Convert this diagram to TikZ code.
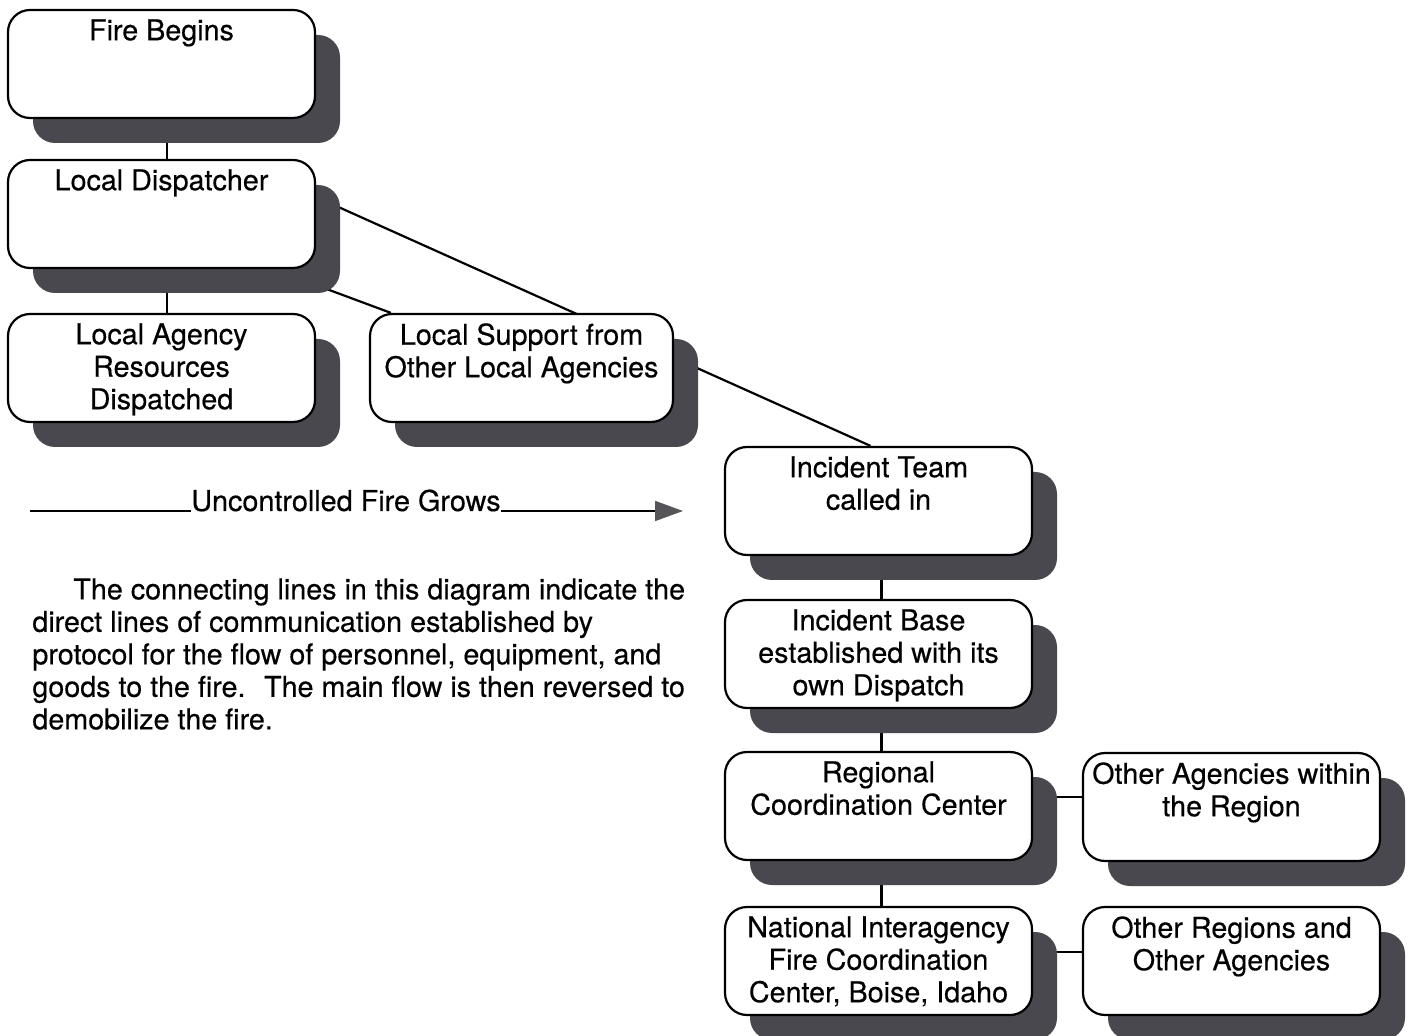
\documentclass[tikz,border=0pt]{standalone}
\usepackage{fontspec}
\setmainfont{TeX Gyre Heros}[FakeBold=0.4]
\usetikzlibrary{shadows,arrows.meta}
\definecolor{shadowc}{RGB}{72,72,78}
\definecolor{arrowc}{RGB}{85,85,90}
\pgfdeclarelayer{bg}
\pgfsetlayers{bg,main}
\begin{document}
\begin{tikzpicture}[x=0.5pt,y=-0.5pt,
  box/.style={draw=black, line width=1.1pt, fill=white, rounded corners=11pt,
    minimum width=153.5pt, minimum height=54pt, inner sep=0pt,
    general shadow={fill=shadowc, shadow xshift=12.5pt, shadow yshift=-12.5pt}},
  lbl/.style={anchor=north, align=center, inner sep=0pt, font=\fontsize{14.35}{16.25}\selectfont},
  link/.style={draw=black, line width=1.1pt}]
\useasboundingbox (0,0) rectangle (1412,1036);

% boxes
\node[box] (fb) at (161.5,64) {};
\node[lbl] (fbt) at ([yshift=-5pt]fb.north) {Fire Begins};
\node[box] (ld) at (161.5,214) {};
\node[lbl] (ldt) at ([yshift=-5pt]ld.north) {Local Dispatcher};
\node[box] (la) at (161.5,368) {};
\node[lbl] (lat) at ([yshift=-5pt]la.north) {Local Agency\\Resources\\Dispatched};
\node[box, minimum width=151.5pt] (ls) at (521.5,368) {};
\node[lbl] (lst) at ([yshift=-5pt]ls.north) {Local Support from\\Other Local Agencies};
\node[box] (it) at (878.5,501) {};
\node[lbl] (itt) at ([yshift=-5pt]it.north) {Incident Team\\called in};
\node[box] (ib) at (878.5,654) {};
\node[lbl] (ibt) at ([yshift=-5pt]ib.north) {Incident Base\\established with its\\own Dispatch};
\node[box] (rc) at (878.5,806) {};
\node[lbl] (rct) at ([yshift=-5pt]rc.north) {Regional\\Coordination Center};
\node[box, minimum width=148.5pt] (oa) at (1231.5,807) {};
\node[lbl] (oat) at ([yshift=-5pt]oa.north) {Other Agencies within\\the Region};
\node[box] (ni) at (878.5,961) {};
\node[lbl] (nit) at ([yshift=-5pt]ni.north) {National Interagency\\Fire Coordination\\Center, Boise, Idaho};
\node[box, minimum width=148.5pt] (or) at (1231.5,961) {};
\node[lbl] (ort) at ([yshift=-5pt]or.north) {Other Regions and\\Other Agencies};

% connectors (behind boxes)
\begin{pgfonlayer}{bg}
\draw[link] ([xshift=2.75pt]fb.center) -- ([xshift=2.75pt]ld.center);
\draw[link] ([xshift=2.75pt]ld.center) -- ([xshift=2.75pt]la.center);
\draw[link] ([yshift=8.5pt]ld.east) -- ([xshift=-4pt]it.north);
\draw[link] ([yshift=-8pt]ld.south east) -- ([xshift=11pt]ls.north west);
\draw[link] ([xshift=1.5pt]it.center) -- ([xshift=1.5pt]ib.center);
\draw[link] ([xshift=1.5pt]ib.center) -- ([xshift=1.5pt]rc.center);
\draw[link] ([xshift=1.5pt]rc.center) -- ([xshift=1.5pt]ni.center);
\draw[link] ([yshift=4.5pt]rc.center) -- ([yshift=4.5pt]rc.center -| oa.center);
\draw[link] ([yshift=4.5pt]ni.center) -- ([yshift=4.5pt]ni.center -| or.center);
\end{pgfonlayer}

% growth arrow
\node[anchor=base, inner sep=0pt, font=\fontsize{14.4}{16.25}\selectfont] (ufg) at (346,511) {Uncontrolled Fire Grows};
\coordinate (as) at (30,511);
\coordinate (ae) at (683,511);
\draw[line width=0.9pt] (as) -- (ufg.base west);
\draw[line width=0.9pt, -{Triangle[length=14pt,width=10pt,color=arrowc]}] (ufg.base east) -- (ae);

% explanatory paragraph
\node[anchor=north west, align=left, inner sep=0pt, font=\fontsize{14.35}{16.25}\selectfont] (para) at (32,578)
{\hspace*{20.5pt}The connecting lines in this diagram indicate the\\
direct lines of communication established by\\
protocol for the flow of personnel, equipment, and\\
goods to the fire.~ The main flow is then reversed to\\
demobilize the fire.};
\end{tikzpicture}
\end{document}
